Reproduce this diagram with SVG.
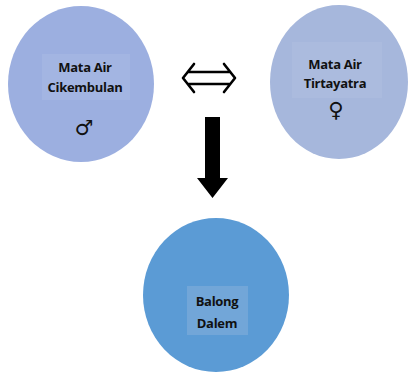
<svg xmlns="http://www.w3.org/2000/svg" width="409" height="374" viewBox="0 0 409 374">
<style>
.lbl{font-family:"Open Sans","Liberation Sans",sans-serif;font-weight:700;font-size:13px;fill:#111;text-anchor:middle;letter-spacing:-0.3px}
.sym{font-family:"DejaVu Sans",sans-serif;font-size:21px;fill:#111;text-anchor:middle}
</style>
<rect width="409" height="374" fill="#fff"/>
<g id="cikembulan">
<ellipse cx="81" cy="84" rx="73" ry="78" fill="#9cafe0"/>
<rect x="42" y="54" width="88" height="46" fill="#a3b5e2"/>
<text class="lbl" x="85" y="72">Mata Air</text>
<text class="lbl" x="85" y="92">Cikembulan</text>
<text class="sym" x="84" y="135">♂</text>
</g>
<g id="tirtayatra">
<ellipse cx="339" cy="82" rx="69" ry="77" fill="#a6b7dc"/>
<rect x="292" y="42" width="90" height="56" fill="#abbbde"/>
<text class="lbl" x="335" y="69">Mata Air</text>
<text class="lbl" x="335" y="88">Tirtayatra</text>
<text class="sym" x="336" y="117">♀</text>
</g>
<g id="balong">
<ellipse cx="216" cy="295" rx="73" ry="77" fill="#5b9bd5"/>
<rect x="187" y="286" width="61" height="49" fill="#72a6d8"/>
<text class="lbl" x="217" y="306">Balong</text>
<text class="lbl" x="217" y="328">Dalem</text>
</g>
<g id="connectors">
<path d="M194,64 L183,78 L194,92 M224,64 L235,78 L224,92 M188,72 L230,72 M188,84 L230,84" fill="none" stroke="#000" stroke-width="2.6" stroke-linecap="round" stroke-linejoin="round"/>
<path d="M205,117 L220,117 L220,178 L228,178 L212.5,198 L197,178 L205,178 Z" fill="#000"/>
</g>
</svg>
